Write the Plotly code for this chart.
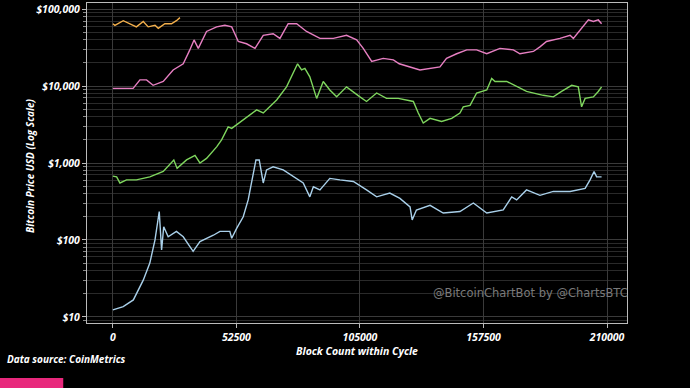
import plotly.graph_objects as go

# Cycle 1 (2012 halving onward)
c1_blocks = [0, 4400, 8700, 12900, 15700, 17900, 19700, 20700, 21600, 23500, 27000, 29900, 34100, 37000,
             42700, 45500, 49700, 50500, 52600, 55400, 57500, 59000, 60800, 62200, 63900, 65300, 68100,
             72400, 76700, 80900, 83700, 85200, 88000, 92200, 96500, 102200, 107800, 112100, 117700,
             122000, 126300, 127200, 129000, 134800, 140400, 147500, 153200, 158900, 165900, 169500,
             171600, 175800, 181500, 187200, 194300, 200700, 202800, 204500, 205600, 207700]
c1_price = [12.3, 13.6, 16.6, 30, 50, 100, 234, 74, 148, 110, 129, 110, 71, 95,
            115, 129, 129, 105, 141, 200, 331, 603, 1096, 1096, 550, 813, 891,
            813, 661, 550, 363, 490, 447, 631, 603, 575, 447, 363, 407,
            347, 269, 182, 245, 282, 224, 234, 302, 224, 245, 363,
            331, 447, 380, 427, 427, 468, 603, 776, 661, 661]

# Cycle 2 (2016 halving onward)
c2_blocks = [0, 1600, 3000, 5800, 10000, 15700, 21400, 24900, 25900, 27300, 31300, 34900, 37000, 39800,
             44100, 46200, 49000, 50500, 56800, 61100, 63900, 69600, 73800, 76700, 78500, 80200, 81600,
             83700, 86600, 89400, 92200, 95100, 99300, 105000, 107800, 112100, 116300, 121300, 127700,
             129800, 131900, 134800, 139700, 144000, 147500, 148900, 151800, 154600, 158900, 161000,
             162400, 167400, 171600, 175800, 182900, 187200, 190700, 195000, 197800, 199200, 200700,
             204200, 206300, 207700]
c2_price = [676, 661, 550, 603, 603, 661, 776, 1000, 1096, 851, 1096, 1259, 1000, 1148,
            1622, 1995, 2951, 2818, 3981, 4898, 4467, 6607, 9772, 14791, 19498, 16218, 16982,
            13183, 6918, 11482, 8913, 7244, 9772, 7244, 6310, 8128, 6918, 6918, 6310,
            4467, 3311, 3802, 3467, 3802, 4467, 5370, 5623, 8128, 8913, 12589,
            11482, 11482, 9772, 8511, 7586, 7244, 8511, 10233, 9772, 5370, 6918,
            7244, 8511, 9772]

# Cycle 3 (2020 halving onward)
c3_blocks = [0, 3000, 8600, 11500, 14300, 17100, 21400, 25600, 29900, 32700, 34500, 36300, 39800, 44100,
             47600, 50500, 53300, 56800, 60400, 63900, 68100, 71000, 74500, 78100, 82300, 88000, 93700,
             99300, 103600, 106400, 110000, 114900, 119200, 121700, 130500, 139000, 141800, 146100,
             150400, 154600, 158900, 164500, 170200, 173000, 178700, 181500, 184300, 190000, 194300,
             195700, 198500, 202100, 204200, 206300, 207700]
c3_price = [9333, 9333, 9333, 12023, 12023, 10233, 11482, 16218, 19498, 29512, 39811, 30903, 51286, 58884,
            61660, 58884, 38019, 35481, 30903, 45709, 47863, 41687, 64565, 64565, 51286, 41687, 41687,
            45709, 39811, 30903, 20893, 22909, 21878, 19498, 16218, 17783, 22909, 26303,
            29512, 29512, 26303, 30903, 29512, 26303, 28184, 32359, 38019, 41687, 45709,
            41687, 53703, 72444, 69183, 72444, 64565]

# Cycle 4 (2024 halving onward)
c4_blocks = [0, 850, 4400, 7200, 10000, 12900, 15000, 17900, 19300, 22100, 24900, 27000, 28500]
c4_price = [64565, 61660, 70795, 64565, 58884, 69183, 58884, 61660, 56234, 64565, 64565, 70795, 77625]

x_ticks = [0, 52500, 105000, 157500, 210000]
x_ticktext = ["0", "52500", "105000", "157500", "210000"]
y_ticks = [10, 100, 1000, 10000, 100000]
y_ticktext = ["$10", "$100", "$1,000", "$10,000", "$100,000"]

series = [
    (c1_blocks, c1_price, "#a9d0ea"),
    (c2_blocks, c2_price, "#7fd65e"),
    (c3_blocks, c3_price, "#e77fc2"),
    (c4_blocks, c4_price, "#f4b04c"),
]

fig = go.Figure()
for xs, ys, col in series:
    fig.add_trace(go.Scatter(x=xs, y=ys, mode="lines", line=dict(color=col, width=1.4),
                             showlegend=False, hoverinfo="skip"))

tick_font = dict(family="Open Sans", size=10.5, color="white", weight="bold", style="italic")

fig.update_layout(
    width=690, height=388,
    margin=dict(l=87, r=63, t=3, b=65, autoexpand=False),
    paper_bgcolor="black", plot_bgcolor="black",
    showlegend=False,
)
fig.update_xaxes(
    automargin=False,
    range=[-11000, 218500],
    tickvals=x_ticks, ticktext=x_ticktext, tickfont=tick_font,
    showgrid=True, gridcolor="#3a3a3a", gridwidth=1,
    showline=True, linecolor="#bbbbbb", linewidth=1.2, mirror=True,
    ticks="outside", ticklen=4, tickcolor="#bbbbbb",
    zeroline=False,
    title=dict(text="Block Count within Cycle", standoff=2,
               font=dict(family="Open Sans", size=10.5, color="white", weight="bold", style="italic")),
)
fig.update_yaxes(
    automargin=False,
    type="log", range=[0.92, 5.08],
    tickvals=y_ticks, ticktext=y_ticktext, tickfont=tick_font,
    showgrid=True, gridcolor="#3a3a3a", gridwidth=1,
    minor=dict(showgrid=True, gridcolor="#2a2a2a", dtick="D1", ticks="outside", ticklen=3, tickcolor="#888888"),
    showline=True, linecolor="#bbbbbb", linewidth=1.2, mirror=True,
    ticks="outside", ticklen=4, tickcolor="#bbbbbb",
    zeroline=False,
)

fig.add_annotation(
    text="Bitcoin Price USD (Log Scale)", xref="paper", yref="paper",
    x=-0.106, y=0.49, xanchor="center", yanchor="middle", textangle=-90, showarrow=False,
    font=dict(family="Open Sans", size=10, color="white", weight="bold", style="italic"),
)
fig.add_annotation(
    text="@BitcoinChartBot by @ChartsBTC", xref="paper", yref="paper",
    x=1.006, y=0.095, xanchor="right", yanchor="middle", showarrow=False,
    font=dict(family="DejaVu Sans", size=11.5, color="#7a7a7a"),
)
fig.add_annotation(
    text="Data source: CoinMetrics", xref="paper", yref="paper",
    x=-0.152, y=-0.085, xanchor="left", yanchor="top", showarrow=False,
    font=dict(family="Open Sans", size=10, color="white", weight="bold", style="italic"),
)
fig.add_shape(type="rect", xref="paper", yref="paper",
              x0=-0.165, x1=-0.044, y0=-0.21, y1=-0.172,
              fillcolor="#e8287c", line=dict(width=0), layer="above")

fig.write_html(
    "out.html",
    config={"displayModeBar": False},
    post_script="document.body.style.margin='0';document.body.style.background='black';document.body.style.overflow='hidden';",
)
